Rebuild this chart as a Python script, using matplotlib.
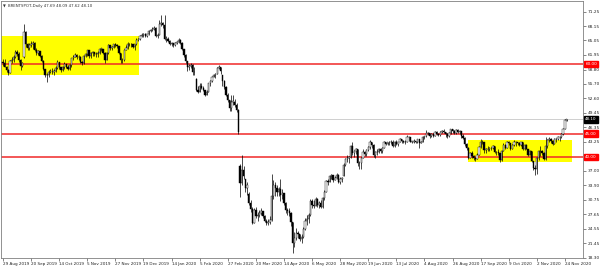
import matplotlib
matplotlib.use("Agg")
import matplotlib.pyplot as plt
import matplotlib.transforms as mtransforms
from matplotlib.patches import Rectangle
import numpy as np

# BRENTSPOT daily bars, 29 Aug 2019 .. 25 Nov 2020 (16 bars per row = one date label)
opens = [
    60.5, 60.1, 59.4, 58.7, 58.1, 60.6, 60.9, 61.5, 62.6, 62.2, 60.8, 59.6, 61.5, 66.8, 64.3, 63.4,
    64.1, 64.2, 64.6, 63.1, 62.3, 62.7, 61.8, 60.7, 58.9, 57.6, 57.7, 58.3, 58.3, 58.2, 58.4, 59.1,
    60.5, 59.3, 58.8, 59.4, 59.9, 59.4, 58.9, 59.7, 61.2, 61.6, 62.0, 61.5, 61.5, 60.5, 60.2, 61.7,
    62.1, 62.9, 61.7, 62.3, 62.5, 62.2, 62.1, 62.4, 63.3, 63.3, 62.4, 60.9, 62.4, 64.0, 63.4, 63.6,
    64.3, 64.0, 63.9, 62.4, 60.9, 60.8, 63.0, 63.4, 64.4, 64.3, 64.3, 63.7, 64.2, 65.2, 65.3, 66.1,
    66.2, 66.5, 66.1, 66.4, 67.2, 67.4, 67.6, 67.7, 66.0, 66.3, 68.6, 68.9, 68.3, 65.4, 65.4, 65.0,
    64.2, 64.5, 64.0, 64.6, 64.8, 65.2, 64.6, 63.2, 62.0, 60.7, 59.3, 59.5, 59.8, 58.3, 56.8, 54.5,
    54.0, 55.3, 54.9, 54.5, 53.3, 54.0, 55.8, 56.3, 57.3, 57.7, 57.8, 59.1, 59.3, 57.6, 56.3, 55.0,
    53.4, 52.2, 50.5, 51.9, 51.9, 51.1, 50.0, 38.0, 34.4, 37.2, 35.3, 33.2, 32.0, 30.1, 28.7, 25.8,
    28.5, 27.2, 27.5, 28.0, 28.3, 27.3, 26.2, 25.8, 26.0, 26.5, 31.5, 34.0, 33.3, 32.5, 33.0, 31.9,
    32.2, 30.0, 28.5, 28.3, 28.0, 26.0, 21.5, 22.5, 23.6, 23.4, 22.3, 22.8, 24.5, 26.2, 26.6, 27.4,
    30.5, 29.7, 29.5, 31.0, 29.6, 30.0, 29.2, 31.1, 32.5, 34.8, 34.7, 35.8, 36.1, 35.1, 35.5, 36.2,
    34.7, 35.3, 35.9, 38.3, 39.6, 39.8, 40.0, 42.3, 40.8, 41.2, 41.7, 38.6, 38.7, 39.7, 41.0, 40.7,
    41.5, 42.2, 43.1, 42.6, 40.3, 41.1, 41.0, 41.7, 41.2, 42.0, 43.1, 42.8, 43.1, 43.1, 43.3, 42.4,
    43.2, 42.7, 43.2, 43.8, 43.4, 43.1, 43.3, 44.3, 44.3, 43.3, 43.3, 43.4, 43.2, 43.8, 42.9, 43.3,
    44.2, 44.4, 45.2, 45.1, 44.4, 45.0, 44.5, 45.4, 45.0, 44.8, 45.4, 45.5, 45.4, 44.9, 44.4, 45.1,
    45.9, 45.6, 45.1, 45.8, 45.3, 45.6, 44.4, 44.1, 42.7, 42.0, 39.8, 40.8, 40.1, 39.8, 39.6, 40.5,
    42.2, 43.3, 43.2, 41.4, 41.7, 41.8, 41.9, 41.9, 42.4, 41.0, 41.0, 40.9, 39.3, 41.3, 42.6, 42.0,
    43.3, 42.9, 41.7, 42.5, 43.3, 43.2, 42.9, 42.6, 43.2, 41.7, 42.5, 41.8, 40.5, 41.2, 39.1, 37.7,
    37.5, 39.7, 41.2, 41.2, 40.9, 39.5, 42.4, 43.6, 43.8, 43.5, 42.8, 43.8, 43.8, 44.3, 44.2, 45.0,
    46.1, 47.69,
]
highs = [
    61.0, 61.0, 59.6, 59.0, 60.9, 61.4, 61.9, 62.9, 63.1, 62.5, 61.0, 60.4, 68.6, 67.2, 64.6, 64.6,
    65.0, 65.0, 64.7, 63.4, 63.0, 62.8, 61.9, 60.8, 59.0, 58.0, 58.6, 59.0, 59.1, 58.9, 59.6, 60.9,
    60.4, 59.4, 59.6, 60.4, 60.0, 59.7, 59.9, 61.3, 61.9, 62.3, 62.1, 61.9, 61.8, 60.6, 62.0, 62.4,
    63.0, 62.9, 62.6, 62.8, 62.6, 62.5, 62.7, 63.4, 63.5, 63.3, 62.5, 62.6, 64.2, 64.1, 63.9, 64.4,
    64.6, 64.2, 63.9, 62.4, 61.2, 63.3, 64.0, 64.8, 64.6, 64.5, 64.4, 64.4, 65.5, 65.6, 66.3, 66.6,
    66.7, 66.6, 66.5, 67.3, 67.6, 67.9, 68.2, 68.0, 66.7, 69.4, 70.5, 69.0, 70.6, 66.0, 65.8, 65.1,
    64.8, 64.6, 64.8, 65.0, 65.6, 65.4, 64.7, 63.3, 62.2, 60.0, 60.0, 60.2, 59.9, 59.4, 57.0, 55.3,
    56.0, 55.8, 55.2, 54.5, 54.4, 56.0, 56.6, 57.5, 57.9, 58.0, 59.3, 59.7, 59.4, 57.7, 56.6, 55.3,
    53.8, 52.2, 53.3, 53.3, 52.5, 51.6, 50.3, 38.5, 40.3, 38.0, 35.3, 34.5, 32.5, 30.7, 29.2, 29.0,
    29.3, 28.2, 28.6, 28.9, 28.4, 27.6, 26.6, 26.7, 27.2, 36.3, 35.0, 34.6, 34.0, 33.5, 35.2, 33.0,
    32.0, 30.2, 29.0, 28.9, 28.2, 26.0, 23.8, 24.8, 24.0, 23.5, 23.5, 24.9, 26.8, 27.6, 27.9, 31.0,
    31.0, 30.7, 31.3, 31.2, 30.4, 30.8, 31.4, 32.8, 35.0, 35.3, 36.0, 36.4, 36.2, 35.8, 36.6, 36.3,
    35.6, 35.6, 38.6, 39.8, 40.3, 40.2, 42.5, 43.3, 41.4, 42.0, 41.7, 39.2, 40.0, 41.8, 41.3, 41.8,
    42.4, 43.6, 43.2, 42.8, 41.3, 41.6, 41.9, 41.9, 42.2, 43.4, 43.2, 43.3, 43.4, 43.6, 43.6, 43.4,
    43.6, 43.3, 44.0, 43.9, 43.6, 43.7, 44.7, 44.6, 44.3, 43.5, 43.8, 43.5, 43.9, 43.8, 43.5, 44.4,
    44.6, 45.8, 45.4, 45.1, 45.2, 45.2, 45.6, 45.5, 45.1, 45.5, 45.7, 45.9, 45.3, 45.1, 45.3, 46.1,
    46.1, 45.8, 46.0, 46.0, 45.8, 45.6, 44.9, 44.2, 42.9, 42.1, 41.1, 41.3, 40.3, 40.0, 40.8, 42.4,
    43.8, 43.6, 43.2, 41.9, 42.3, 42.1, 42.1, 42.6, 42.4, 41.3, 41.6, 40.9, 41.5, 42.9, 42.7, 43.5,
    43.4, 42.9, 42.7, 43.6, 43.4, 43.3, 43.1, 43.3, 43.0, 42.7, 42.7, 41.8, 41.4, 41.3, 39.2, 38.2,
    39.9, 41.4, 42.3, 41.4, 41.1, 44.2, 43.8, 44.2, 44.0, 43.6, 44.1, 44.0, 44.5, 44.5, 45.1, 46.3,
    48.2, 48.09,
]
lows = [
    59.6, 59.3, 58.3, 57.6, 58.0, 60.2, 60.4, 61.3, 61.7, 60.5, 58.8, 59.4, 61.2, 63.6, 62.9, 63.1,
    63.6, 63.3, 62.8, 61.9, 61.9, 61.5, 60.5, 58.7, 57.3, 56.2, 57.3, 58.0, 57.8, 57.6, 58.2, 59.0,
    59.0, 58.3, 58.4, 59.0, 59.1, 58.6, 58.7, 59.4, 60.9, 61.4, 61.1, 60.8, 60.2, 59.7, 60.0, 61.5,
    61.8, 61.3, 61.2, 61.8, 61.8, 61.6, 61.5, 62.2, 62.8, 62.2, 60.2, 60.8, 62.2, 63.0, 63.0, 63.4,
    63.7, 63.5, 62.2, 60.1, 60.2, 60.7, 62.9, 63.2, 63.9, 63.6, 63.5, 63.0, 64.0, 64.9, 65.2, 65.7,
    65.8, 65.7, 65.9, 66.3, 66.8, 67.0, 67.3, 65.8, 65.6, 66.3, 68.2, 67.8, 65.2, 64.8, 64.7, 64.0,
    63.9, 63.6, 63.9, 64.3, 64.6, 64.2, 63.1, 61.6, 60.3, 58.5, 58.7, 59.1, 57.7, 57.6, 54.2, 53.7,
    53.9, 54.6, 54.2, 53.1, 53.3, 54.0, 55.3, 56.2, 57.1, 56.9, 57.8, 58.9, 57.9, 55.2, 54.7, 53.1,
    51.8, 49.8, 49.8, 51.2, 50.8, 49.7, 45.0, 31.3, 34.0, 35.3, 32.5, 31.7, 29.6, 28.2, 25.5, 25.8,
    26.8, 26.3, 27.0, 27.4, 26.8, 25.9, 25.3, 25.4, 25.6, 26.3, 31.0, 31.5, 31.5, 31.5, 30.5, 30.9,
    29.6, 28.0, 27.6, 27.3, 25.2, 19.3, 20.5, 22.2, 22.6, 21.8, 21.5, 22.6, 24.3, 25.4, 25.8, 27.3,
    29.0, 29.0, 29.6, 29.3, 29.0, 29.0, 28.9, 30.8, 32.5, 34.0, 34.6, 35.3, 34.6, 35.0, 35.3, 34.4,
    34.1, 34.6, 35.8, 38.0, 39.0, 38.7, 39.8, 40.5, 40.0, 40.7, 38.1, 37.5, 37.3, 39.7, 40.1, 40.2,
    41.3, 41.6, 42.0, 40.0, 39.8, 40.5, 40.8, 40.9, 40.9, 41.9, 42.6, 42.5, 42.6, 42.8, 42.1, 42.2,
    42.5, 42.3, 43.1, 43.0, 42.9, 42.8, 43.2, 43.5, 43.1, 42.9, 43.0, 42.9, 43.0, 41.9, 42.9, 43.1,
    43.9, 44.3, 44.8, 44.0, 44.3, 44.2, 44.4, 44.7, 44.6, 44.6, 45.1, 45.2, 44.2, 44.1, 44.3, 45.0,
    45.2, 45.0, 45.0, 45.1, 44.9, 44.1, 43.8, 42.4, 41.5, 39.5, 39.7, 39.8, 39.4, 39.2, 39.5, 40.3,
    42.0, 42.8, 40.8, 40.9, 41.3, 41.3, 41.5, 41.6, 40.8, 40.5, 40.4, 39.0, 39.2, 41.2, 41.7, 41.9,
    42.6, 41.5, 41.6, 42.4, 42.3, 42.6, 42.3, 42.4, 41.5, 41.4, 41.6, 40.2, 40.3, 38.8, 37.2, 36.2,
    36.3, 39.3, 40.2, 40.5, 39.3, 39.4, 42.0, 43.3, 42.9, 42.6, 42.7, 43.3, 43.6, 43.5, 44.1, 44.7,
    46.0, 47.62,
]
closes = [
    60.1, 59.4, 58.7, 58.1, 60.6, 60.9, 61.5, 62.6, 62.2, 60.8, 59.6, 60.1, 66.8, 64.3, 63.4, 64.1,
    64.2, 64.6, 63.1, 62.3, 62.7, 61.8, 60.7, 58.9, 57.6, 57.7, 58.3, 58.3, 58.2, 58.4, 59.1, 60.5,
    59.3, 58.8, 59.4, 59.9, 59.4, 58.9, 59.7, 61.2, 61.6, 62.0, 61.5, 61.5, 60.5, 60.2, 61.7, 62.1,
    62.9, 61.7, 62.3, 62.5, 62.2, 62.1, 62.4, 63.3, 63.3, 62.4, 60.9, 62.4, 64.0, 63.4, 63.6, 64.3,
    64.0, 63.9, 62.4, 60.9, 60.8, 63.0, 63.4, 64.4, 64.3, 64.3, 63.7, 64.2, 65.2, 65.3, 66.1, 66.2,
    66.5, 66.1, 66.4, 67.2, 67.4, 67.6, 67.7, 66.0, 66.3, 68.6, 68.9, 68.3, 65.4, 65.4, 65.0, 64.2,
    64.5, 64.0, 64.6, 64.8, 65.2, 64.6, 63.2, 62.0, 60.7, 59.3, 59.5, 59.8, 58.3, 58.2, 54.5, 54.0,
    55.3, 54.9, 54.5, 53.3, 54.0, 55.8, 56.3, 57.3, 57.7, 57.8, 59.1, 59.3, 58.5, 56.3, 55.0, 53.4,
    52.2, 50.5, 51.9, 51.9, 51.1, 50.0, 45.3, 34.4, 37.2, 35.8, 33.2, 33.9, 30.1, 28.7, 25.8, 28.5,
    27.2, 27.5, 28.0, 28.3, 27.3, 26.2, 25.8, 26.0, 26.5, 31.5, 34.0, 33.3, 32.5, 33.0, 31.9, 32.2,
    30.0, 28.5, 28.3, 28.0, 26.0, 21.5, 22.5, 23.6, 23.4, 22.3, 22.8, 24.5, 26.2, 26.6, 27.4, 30.5,
    29.7, 29.5, 31.0, 29.6, 30.0, 29.2, 31.1, 32.5, 34.8, 34.7, 35.8, 36.1, 35.1, 35.5, 36.2, 34.7,
    35.3, 35.3, 38.3, 39.6, 39.8, 40.0, 42.3, 40.8, 41.2, 41.7, 38.6, 38.7, 39.7, 41.0, 40.7, 41.5,
    42.2, 43.1, 42.6, 40.3, 41.1, 41.0, 41.7, 41.2, 42.0, 43.1, 42.8, 43.1, 43.1, 43.3, 42.4, 43.2,
    42.7, 43.2, 43.8, 43.4, 43.1, 43.3, 44.3, 44.3, 43.3, 43.3, 43.4, 43.2, 43.8, 42.9, 43.3, 44.2,
    44.4, 45.2, 45.1, 44.4, 45.0, 44.5, 45.4, 45.0, 44.8, 45.4, 45.5, 45.4, 44.9, 44.4, 45.1, 45.9,
    45.6, 45.1, 45.8, 45.3, 45.6, 44.4, 44.1, 42.7, 42.0, 39.8, 40.8, 40.1, 39.8, 39.6, 40.5, 42.2,
    43.3, 43.2, 41.4, 41.7, 41.8, 41.9, 41.9, 42.4, 41.0, 41.0, 40.9, 39.3, 41.3, 42.6, 42.0, 43.3,
    42.9, 41.7, 42.5, 43.3, 43.2, 42.9, 42.6, 43.2, 41.7, 42.5, 41.8, 40.5, 41.2, 39.1, 37.7, 37.5,
    39.7, 41.2, 41.2, 40.9, 39.5, 42.4, 43.6, 43.8, 43.5, 42.8, 43.8, 43.8, 44.3, 44.2, 45.0, 46.1,
    47.9, 48.10,
]

date_labels = ["29 Aug 2019", "20 Sep 2019", "14 Oct 2019", "5 Nov 2019", "27 Nov 2019",
               "19 Dec 2019", "14 Jan 2020", "5 Feb 2020", "27 Feb 2020", "20 Mar 2020",
               "14 Apr 2020", "6 May 2020", "28 May 2020", "19 Jun 2020", "13 Jul 2020",
               "4 Aug 2020", "26 Aug 2020", "17 Sep 2020", "9 Oct 2020", "2 Nov 2020",
               "24 Nov 2020"]
price_labels = ["71.25", "68.15", "65.05", "61.95", "58.80", "55.70", "52.60", "49.45",
                "46.35", "43.25", "37.00", "33.90", "30.75", "27.65", "24.55", "21.45", "18.30"]

levels = [60.0, 45.0, 40.0]
# yellow ranges: first bar, last bar, low, high
zone_from = [-3, 265]
zone_to = [77.5, 324]
zone_low = [57.6, 39.0]
zone_high = [66.0, 43.6]

assert len(opens) == len(highs) == len(lows) == len(closes)

o = np.array(opens); h = np.array(highs); l = np.array(lows); c = np.array(closes)
x = np.arange(len(c))

fig = plt.figure(figsize=(6.0, 2.69), dpi=100)
ax = fig.add_axes([1/600, 11/269, 582/600, 257/269])
ax.set_xlim(-1.14, 330.3)
ax.set_ylim(18.24, 73.55)

for x0, x1, lo, hi in zip(zone_from, zone_to, zone_low, zone_high):
    ax.add_patch(Rectangle((x0, lo), x1 - x0, hi - lo, fc="#ffff00", ec="none", zorder=1))

ax.axhline(c[-1], color="#c8c8c8", lw=0.6, zorder=1.5)
for v in levels:
    ax.axhline(v, color="#f02828", lw=1.1, zorder=2)

# candles
top = np.maximum.reduce([h, o, c])
bot = np.minimum.reduce([l, o, c])
ax.vlines(x, bot, top, color="black", lw=0.5, zorder=3)
up = c >= o
body_b = np.minimum(o, c)
body_h = np.maximum(np.abs(c - o), 0.08)
ax.bar(x[up], body_h[up], bottom=body_b[up], width=0.75, color="white",
       edgecolor="black", linewidth=0.3, zorder=4)
ax.bar(x[~up], body_h[~up], bottom=body_b[~up], width=0.75, color="black",
       edgecolor="black", linewidth=0.3, zorder=4)

# axes look
for s in ax.spines.values():
    s.set_color("#808080")
    s.set_linewidth(0.6)
ax.yaxis.tick_right()
ax.set_yticks([float(t) for t in price_labels])
ax.set_yticklabels(price_labels, fontsize=3.1, color="#222222")
ax.tick_params(axis="y", length=2, width=0.5, pad=1.2, color="#555555")
ax.set_xticks(np.arange(len(date_labels)) * 16)
ax.set_xticklabels(date_labels, fontsize=3.0, color="#222222", ha="left")
ax.tick_params(axis="x", length=2, width=0.5, pad=1.0, color="#555555")

trans = mtransforms.blended_transform_factory(ax.transAxes, ax.transData)
for v in levels:
    ax.text(1.004, v, f"{v:.2f}", transform=trans, fontsize=3.0, color="white",
            va="center", ha="left", clip_on=False, zorder=6,
            bbox=dict(boxstyle="square,pad=0.3", fc="#ff0000", ec="#ff0000"))
ax.text(1.004, c[-1], f"{c[-1]:.2f}", transform=trans, fontsize=3.0, color="white",
        va="center", ha="left", clip_on=False, zorder=6,
        bbox=dict(boxstyle="square,pad=0.3", fc="black", ec="black"))

fig.text(3/600, 1 - 6/269, "\u25bc", fontsize=2.6, color="#333333", va="center")
fig.text(8/600, 1 - 6/269,
         f"BRENTSPOT,Daily {opens[-1]:.2f} {highs[-1]:.2f} {lows[-1]:.2f} {closes[-1]:.2f}",
         fontsize=2.8, color="#333333", va="center")

fig.savefig("out.png", dpi=100)
